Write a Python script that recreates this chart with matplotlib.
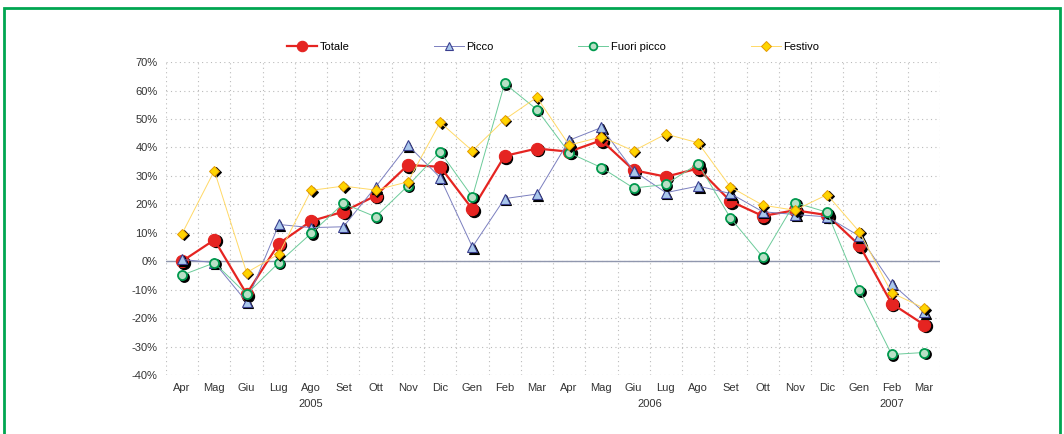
import numpy as np
import matplotlib
matplotlib.use("Agg")
import matplotlib.pyplot as plt
import matplotlib.transforms as mtransforms
from matplotlib.patches import Rectangle

plt.rcParams["font.family"] = ["Liberation Sans", "DejaVu Sans"]

mesi = ["Apr", "Mag", "Giu", "Lug", "Ago", "Set", "Ott", "Nov", "Dic", "Gen", "Feb", "Mar",
        "Apr", "Mag", "Giu", "Lug", "Ago", "Set", "Ott", "Nov", "Dic", "Gen", "Feb", "Mar"]
anni = ["2005", "2006", "2007"]
anni_pos = [4, 14.5, 22]

totale = [0.0, 7.5, -11.5, 6.2, 14.1, 17.4, 23.0, 33.8, 33.2, 18.3, 37.0, 39.6,
          38.5, 42.5, 32.0, 29.7, 32.6, 21.1, 15.9, 17.9, 16.2, 5.6, -14.9, -22.3]
picco = [0.6, -0.5, -14.3, 12.9, 11.8, 12.1, 26.1, 40.8, 29.4, 5.0, 22.0, 23.6,
         42.5, 47.0, 31.7, 24.1, 26.4, 23.8, 17.4, 16.4, 15.6, 8.8, -7.9, -17.9]
fuori_picco = [-4.9, -0.6, -11.6, -0.5, 9.8, 20.3, 15.6, 26.5, 38.5, 22.6, 62.5, 53.3,
               38.1, 32.9, 25.7, 27.0, 34.3, 15.2, 1.5, 20.6, 17.2, -10.2, -32.8, -32.1]
festivo = [9.7, 31.8, -4.0, 2.5, 24.9, 26.4, 25.0, 27.9, 48.8, 38.8, 49.8, 57.6,
           40.8, 43.7, 38.8, 44.7, 41.6, 26.1, 19.7, 17.9, 23.4, 10.3, -11.1, -16.5]

fig = plt.figure(figsize=(10.64, 4.34), dpi=100)
ax = fig.add_axes([0.156, 0.136, 0.7275, 0.721])

x = np.arange(len(mesi))
ombra = mtransforms.offset_copy(ax.transData, fig=fig, x=1.6, y=-1.6, units="dots")

serie = [
    ("Totale", totale, dict(color="#E52421", lw=1.6, marker="o", ms=8.8,
                            mfc="#E52421", mec="#E52421", mew=0.8)),
    ("Picco", picco, dict(color="#7B7FBF", lw=0.7, marker="^", ms=7.5,
                          mfc="#A9C7EC", mec="#3A3F8F", mew=0.8)),
    ("Fuori picco", fuori_picco, dict(color="#6CCB9A", lw=0.7, marker="o", ms=6.5,
                                      mfc="#B9E0C6", mec="#009A4E", mew=1.3)),
    ("Festivo", festivo, dict(color="#FFD966", lw=0.7, marker="D", ms=5.5,
                              mfc="#FFD500", mec="#E59B00", mew=0.7)),
]

z = 3
for nome, valori, stile in serie:
    ax.plot(x, valori, ls="none", marker=stile["marker"], ms=stile["ms"],
            mfc="black", mec="black", mew=stile["mew"], transform=ombra, zorder=z)
    ax.plot(x, valori, label=nome, zorder=z + 1, **stile)
    z += 2

ax.axhline(0, color="#9097AE", lw=1.0, zorder=2)

ax.set_xlim(-0.5, len(mesi) - 0.5)
ax.set_ylim(-40, 70)
ax.set_yticks(np.arange(-40, 71, 10))
ax.set_yticklabels([f"{v}%" for v in range(-40, 71, 10)])
ax.set_xticks(x)
ax.set_xticklabels(mesi)
ax.set_xticks(np.arange(-0.5, len(mesi), 1), minor=True)
ax.tick_params(axis="both", which="both", length=0, labelsize=8, colors="#333333", pad=6)
ax.grid(axis="y", which="major", ls=(0, (1, 3)), color="#BBBBBB", lw=0.8)
ax.grid(axis="x", which="minor", ls=(0, (1, 3)), color="#BBBBBB", lw=0.8)
for s in ax.spines.values():
    s.set_visible(False)

trans = mtransforms.blended_transform_factory(ax.transData, ax.transAxes)
for anno, pos in zip(anni, anni_pos):
    ax.text(pos, -0.078, anno, transform=trans, ha="center", va="top",
            fontsize=8, color="#333333")

ax.legend(loc="lower center", bbox_to_anchor=(0.5, 1.0), ncol=4, frameon=False,
          fontsize=8, handlelength=2.7, handletextpad=0.25, columnspacing=7.6,
          markerscale=0.85)

fig.patches.append(Rectangle((0.0038, -0.05), 0.9925, 0.9816 + 0.05, fill=False,
                             edgecolor="#00A651", lw=2.0, transform=fig.transFigure))

fig.savefig("out.png", dpi=100)
